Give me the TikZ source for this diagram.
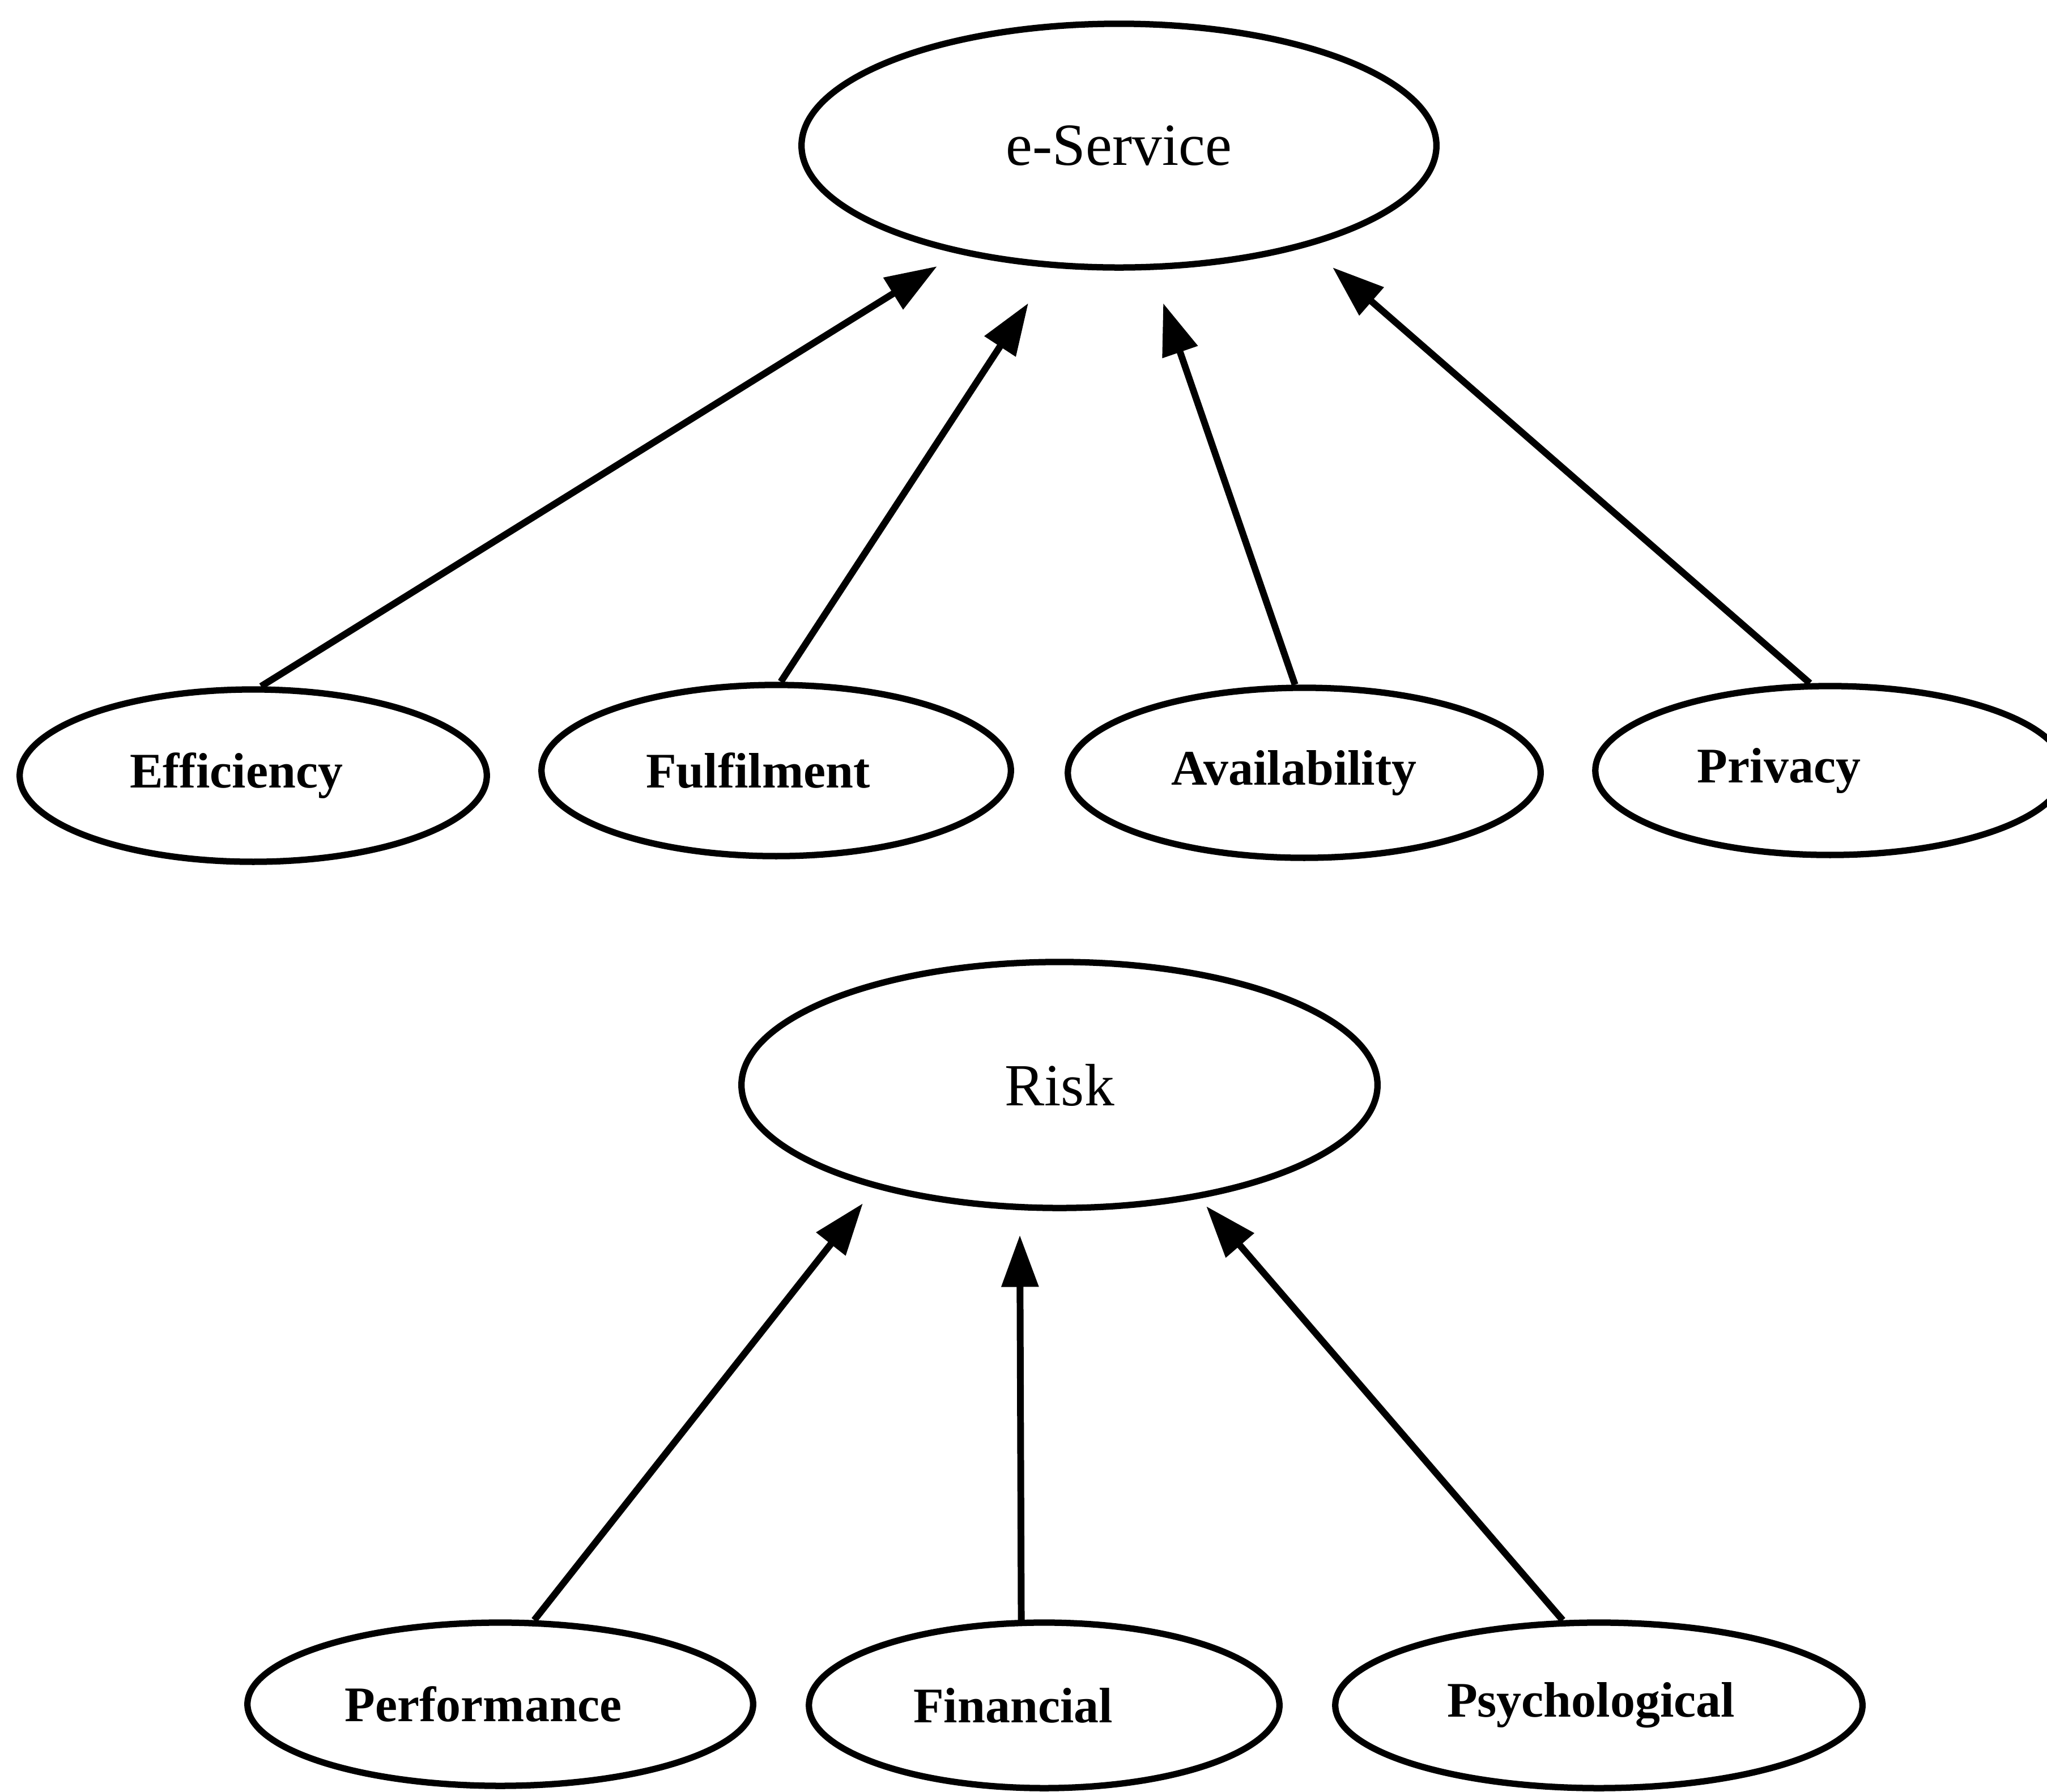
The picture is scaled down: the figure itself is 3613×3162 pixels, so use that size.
\documentclass[tikz,border=0pt]{standalone}
\usepackage{fontspec}
\setmainfont{Liberation Serif}
\usetikzlibrary{shapes.geometric,arrows.meta}
\begin{document}
\begin{tikzpicture}[x=0.01cm,y=-0.01cm,
  construct/.style={ellipse,draw,line width=3.2pt,inner sep=0pt,
    font=\fontsize{30}{36}\selectfont},
  facet/.style={ellipse,draw,line width=3.2pt,inner sep=0pt,
    font=\fontsize{25}{30}\selectfont\bfseries},
  link/.style={line width=3.4pt,-{Triangle[length=26pt,width=18pt]}}]
\useasboundingbox (0,0) rectangle (3613,3162);
\fill[white] (0,0) rectangle (3613,3162);
\begin{scope}
\clip (0,0) rectangle (3613,3162);

% upper model: dimensions of e-service quality
\node[construct,minimum width=11.20cm,minimum height=4.30cm] (eserv) at (1975,257) {e-Service};
\node[facet,minimum width=8.24cm,minimum height=3.04cm] (eff) at (447,1369) {\hspace*{-0.60cm}Efficiency};
\node[facet,minimum width=8.28cm,minimum height=3.02cm] (ful) at (1370,1360) {\hspace*{-0.64cm}Fulfilment};
\node[facet,minimum width=8.34cm,minimum height=3.00cm] (avail) at (2302,1364) {\hspace*{-0.36cm}Availability};
\node[facet,minimum width=8.28cm,minimum height=2.98cm] (priv) at (3230,1360) {\hspace*{-1.80cm}Privacy};

\coordinate (t1) at (1654,470);
\coordinate (t2) at (1815,535);
\coordinate (t3) at (2053,535);
\coordinate (t4) at (2352,472);

\draw[link] (eff.85) -- (t1);
\draw[link] (ful.87) -- (t2);
\draw[link] (avail.96) -- (t3);
\draw[link] (priv.103) -- (t4);

% lower model: dimensions of perceived risk
\node[construct,minimum width=11.22cm,minimum height=4.34cm] (risk) at (1870,1915) {Risk};
\node[facet,minimum width=8.92cm,minimum height=2.88cm] (perf) at (883,3008) {\hspace*{-0.60cm}Performance};
\node[facet,minimum width=8.30cm,minimum height=2.92cm] (fin) at (1843,3010) {\hspace*{-1.10cm}Financial};
\node[facet,minimum width=9.30cm,minimum height=2.92cm] (psy) at (2822,3010) {\hspace*{-0.28cm}Psychological};

\coordinate (t5) at (1523,2124);
\coordinate (t6) at (1800,2180);
\coordinate (t7) at (2129,2129);

\draw[link] (perf.68) -- (t5);
\draw[link] (fin.105) -- (t6);
\draw[link] (psy.113) -- (t7);
\end{scope}
\end{tikzpicture}
\end{document}
